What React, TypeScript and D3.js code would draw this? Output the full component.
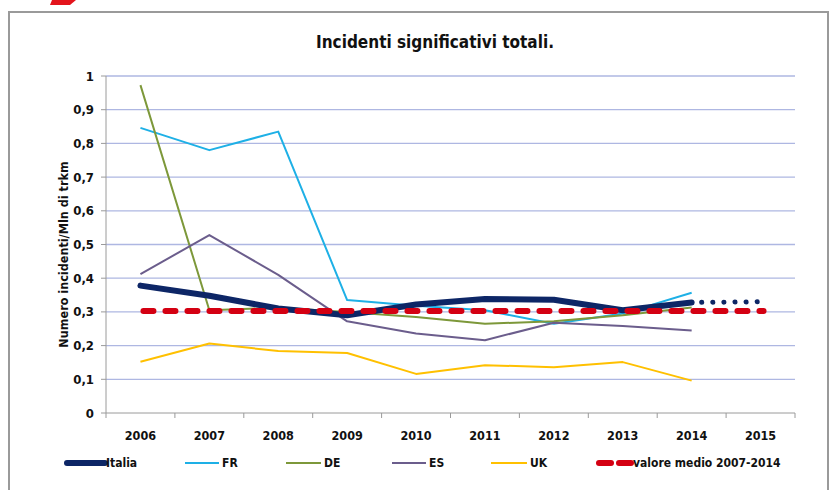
import * as d3 from 'd3'

// categories + series
const years = ['2006', '2007', '2008', '2009', '2010', '2011', '2012', '2013', '2014', '2015']
const italia = [0.378, 0.348, 0.31, 0.29, 0.322, 0.338, 0.336, 0.305, 0.328, 0.33]
const fr = [0.846, 0.78, 0.835, 0.335, 0.318, 0.305, 0.265, 0.295, 0.357]
const de = [0.973, 0.305, 0.312, 0.3, 0.285, 0.265, 0.272, 0.29, 0.313]
const es = [0.412, 0.528, 0.41, 0.272, 0.236, 0.216, 0.268, 0.258, 0.245]
const uk = [0.152, 0.206, 0.184, 0.178, 0.116, 0.142, 0.136, 0.151, 0.096]
const mediaValue = 0.303
const yTicks = [0, 0.1, 0.2, 0.3, 0.4, 0.5, 0.6, 0.7, 0.8, 0.9, 1]

const W = 834
const H = 490
const FONT = "'Liberation Sans Narrow', 'DejaVu Sans Condensed', sans-serif"

const fmt = (v: number) => (v === 0 || v === 1 ? String(v) : v.toFixed(1).replace('.', ','))

const App = () => {
  const x = d3.scaleBand().domain(years).range([106, 795]).padding(0)
  const y = d3.scaleLinear().domain([0, 1]).range([413, 76])
  const cx = (yr: string) => (x(yr) as number) + x.bandwidth() / 2

  const line = d3
    .line<number>()
    .x((_, i) => cx(years[i]))
    .y(d => y(d))

  // Italia: solid through 2014, dotted to 2015
  const italiaSolid = italia.slice(0, 9)
  const italiaDotted = d3
    .line<number>()
    .x((_, i) => cx(years[8 + i]))
    .y(d => y(d))(italia.slice(8))

  const series = [
    { name: 'FR', values: fr, color: '#1eb0e6', w: 2 },
    { name: 'DE', values: de, color: '#7d983a', w: 2 },
    { name: 'ES', values: es, color: '#6b5d8c', w: 2 },
    { name: 'UK', values: uk, color: '#ffc000', w: 2 },
  ]

  const legend = [
    { label: 'Italia', x0: 67, x1: 105, tx: 106, color: '#0d2666', w: 6 },
    { label: 'FR', x0: 185, x1: 219, tx: 222, color: '#1eb0e6', w: 2 },
    { label: 'DE', x0: 286, x1: 321, tx: 324, color: '#7d983a', w: 2 },
    { label: 'ES', x0: 392, x1: 426, tx: 429, color: '#6b5d8c', w: 2 },
    { label: 'UK', x0: 491, x1: 527, tx: 530, color: '#ffc000', w: 2 },
  ]

  return (
    <svg width={W} height={H} style={{ position: 'absolute', left: 0, top: 0, background: '#fff' }}>
      <polygon points="52,0 76,0 70,5 50,5" fill="#e3141c" />
      <rect x={9} y={12} width={819} height={490} fill="#fff" stroke="#9a9a9a" strokeWidth={2} />

      <text x={435} y={48} textAnchor="middle" fontFamily={FONT} fontWeight="bold" fontSize={17} fill="#111">
        Incidenti significativi totali.
      </text>

      {/* grid */}
      {yTicks.map(t => (
        <g key={t}>
          {t > 0 && <line x1={106} x2={795} y1={y(t)} y2={y(t)} stroke="#aeb7e2" strokeWidth={1.3} />}
          <line x1={101} x2={106} y1={y(t)} y2={y(t)} stroke="#9a9a9a" />
          <text x={94} y={y(t)} dy="0.35em" textAnchor="end" fontFamily={FONT} fontWeight="bold" fontSize={13} fill="#111">
            {fmt(t)}
          </text>
        </g>
      ))}
      <line x1={106} x2={106} y1={76} y2={413} stroke="#9a9a9a" />
      <line x1={106} x2={795} y1={413} y2={413} stroke="#9a9a9a" />
      {years.map(yr => (
        <g key={yr}>
          <line x1={x(yr) as number} x2={x(yr) as number} y1={413} y2={418} stroke="#9a9a9a" />
          <text x={cx(yr)} y={436} dy="0.35em" textAnchor="middle" fontFamily={FONT} fontWeight="bold" fontSize={12.5} fill="#111">
            {yr}
          </text>
        </g>
      ))}
      <line x1={795} x2={795} y1={413} y2={418} stroke="#9a9a9a" />

      <text
        transform={`translate(64,${(76 + 413) / 2 + 10}) rotate(-90)`}
        textAnchor="middle"
        dy="0.35em"
        fontFamily={FONT}
        fontWeight="bold"
        fontSize={12.5}
        fill="#111"
      >
        Numero incidenti/Mln di trkm
      </text>

      {/* series */}
      {series.map(s => (
        <path key={s.name} d={line(s.values) ?? ''} fill="none" stroke={s.color} strokeWidth={s.w} strokeLinejoin="round" />
      ))}
      <path d={line(italiaSolid) ?? ''} fill="none" stroke="#0d2666" strokeWidth={6} strokeLinejoin="round" strokeLinecap="round" />
      <path d={italiaDotted ?? ''} fill="none" stroke="#0d2666" strokeWidth={5} strokeDasharray="0.1 11" strokeDashoffset={-10} strokeLinecap="round" />
      <line
        x1={cx(years[0])}
        x2={cx(years[years.length - 1])}
        y1={y(mediaValue)}
        y2={y(mediaValue)}
        stroke="#d40012"
        strokeWidth={6}
        strokeDasharray="10 12"
        strokeLinecap="round"
        transform="translate(3,0)"
      />

      {/* legend */}
      {legend.map(l => (
        <g key={l.label}>
          <line x1={l.x0} x2={l.x1} y1={463} y2={463} stroke={l.color} strokeWidth={l.w} strokeLinecap={l.w > 2 ? 'round' : 'butt'} />
          <text x={l.tx} y={463} dy="0.35em" fontFamily={FONT} fontWeight="bold" fontSize={12} fill="#111">
            {l.label}
          </text>
        </g>
      ))}
      <line x1={599} x2={611} y1={463} y2={463} stroke="#d40012" strokeWidth={6} strokeLinecap="round" />
      <line x1={619} x2={631} y1={463} y2={463} stroke="#d40012" strokeWidth={6} strokeLinecap="round" />
      <text x={633} y={463} dy="0.35em" fontFamily={FONT} fontWeight="bold" fontSize={12} fill="#111">
        valore medio 2007-2014
      </text>
    </svg>
  )
}

export default App
